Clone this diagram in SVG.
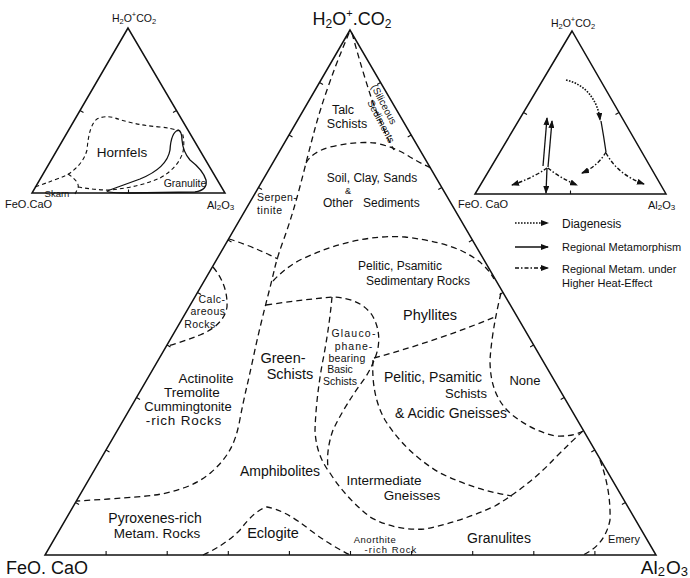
<svg xmlns="http://www.w3.org/2000/svg" width="690" height="578" viewBox="0 0 690 578">
<style>
text{font-family:"Liberation Sans",Arial,sans-serif;fill:#111}
.edge{fill:none;stroke:#111;stroke-width:1.5;stroke-linejoin:miter}
.tick{fill:none;stroke:#111;stroke-width:1.1}
.bd{fill:none;stroke:#111;stroke-width:1.3;stroke-dasharray:6 4}
.bds{fill:none;stroke:#111;stroke-width:1.1;stroke-dasharray:4 3}
.sol{fill:none;stroke:#111;stroke-width:1.3}
.dot{fill:none;stroke:#111;stroke-width:1.6;stroke-dasharray:1.6 1.4}
.dd{fill:none;stroke:#111;stroke-width:1.4;stroke-dasharray:4 2 1.5 2}
</style>
<defs>
<marker id="ah" markerWidth="8" markerHeight="6" refX="7" refY="3" orient="auto" markerUnits="userSpaceOnUse">
<path d="M0,0 L8,3 L0,6 Z" fill="#111"/>
</marker>
</defs>

<!-- main triangle -->
<g id="main-triangle">
<path class="edge" d="M350,30 L45,555 L656,555 Z"/>
<path class="tick" d="M319.5,82.5 l3.5,2 M289,135 l3.5,2 M258.5,187.5 l3.5,2 M228,240 l3.5,2 M197.5,292.5 l3.5,2 M167,345 l3.5,2 M136.5,397.5 l3.5,2 M106,450 l3.5,2 M75.5,502.5 l3.5,2 M380.6,82.5 l-3.5,2 M411.2,135 l-3.5,2 M441.8,187.5 l-3.5,2 M472.4,240 l-3.5,2 M503,292.5 l-3.5,2 M533.6,345 l-3.5,2 M564.2,397.5 l-3.5,2 M594.8,450 l-3.5,2 M625.4,502.5 l-3.5,2 M106.1,555 l0,-4 M167.2,555 l0,-4 M228.3,555 l0,-4 M289.4,555 l0,-4 M350.5,555 l0,-4 M411.6,555 l0,-4 M472.7,555 l0,-4 M533.8,555 l0,-4 M594.9,555 l0,-4"/>
<text x="352" y="25" text-anchor="middle" font-size="18">H<tspan font-size="12" dy="3">2</tspan><tspan dy="-3">O</tspan><tspan font-size="11" dy="-8">+</tspan><tspan dy="8">.</tspan>CO<tspan font-size="12" dy="3">2</tspan></text>
<text x="6" y="574" font-size="18">FeO. CaO</text>
<text x="688" y="574" text-anchor="end" font-size="19">Al<tspan font-size="13" dy="2">2</tspan><tspan dy="-2" dx="1">O</tspan><tspan font-size="13" dy="2">3</tspan></text>
</g>

<!-- boundaries -->
<g id="connectors">
<path class="bd" d="M349,33 L342,50 Q335,67 327.5,88.5 Q320,110 315,128.5 Q310,147 305,167 Q300,187 295,204.5 Q290,222 283.5,240 Q277,258 274.5,269 Q272,280 268.5,293.5 Q265,307 261,323.5 Q257,340 253.5,356.5 Q250,373 246.5,388 Q243,403 239.5,421.5 Q236,440 229,451.5 Q222,463 211,472.5 Q200,482 185,487.5 Q170,493 155,495 Q140,497 108.5,499 L77,501"/>
<path class="bd" d="M352,33 Q362,70 372,100 Q385,135 394,150"/>
<path class="bd" d="M306,163 Q312,152 330,147 Q355,141 375,143 Q395,147 410,157 Q420,163 431,168"/>
<path class="bd" d="M273,281 Q285,268 300,260 Q325,248 350,242 Q380,235 405,237 Q440,241 462,251 Q485,262 494,279"/>
<path class="bd" d="M229,239 Q252,246 278,259"/>
<path class="bd" d="M213,267 Q228,285 227,307 Q224,325 200,335 Q185,341 168,346"/>
<path class="bd" d="M266,305 Q300,300 332,297 Q360,298 372,315 Q381,330 378,348 Q375,362 365,378 Q345,405 333,430 Q326,450 328,468"/>
<path class="bd" d="M332,297 Q329,330 322,365 Q316,400 315,430 Q316,455 330,473"/>
<path class="bd" d="M330,473 Q345,497 370,517 Q395,531 425,529 Q460,522 495,506 Q530,485 555,458 Q572,441 583,431"/>
<path class="bd" d="M374,358 Q440,340 497,316"/>
<path class="bd" d="M373,360 Q371,395 385,420 Q405,452 440,473 Q475,490 512,496"/>
<path class="bd" d="M501,293 Q492,330 490,360 Q490,395 510,413 Q530,430 555,436 Q572,437 583,431"/>
<path class="bd" d="M600,460 Q611,490 610,520 Q605,545 583,555"/>
<path class="bd" d="M203,555 Q225,545 240,530 Q255,510 267,507 Q285,510 310,530 Q330,545 350,555"/>
</g>

<!-- region labels -->
<g id="labels" font-size="13">
<text x="343" y="114" text-anchor="middle" font-size="12.5">Talc</text>
<text x="347" y="128" text-anchor="middle" font-size="12.5">Schists</text>
<text transform="translate(381,106) rotate(62)" text-anchor="middle" font-size="10">(Siliceous</text>
<text transform="translate(378,123) rotate(62)" text-anchor="middle" font-size="10">Sediments</text>
<text x="372" y="182" text-anchor="middle" font-size="12">Soil, Clay, Sands</text>
<text x="348" y="194" text-anchor="middle" font-size="9">&amp;</text>
<text y="207" font-size="12"><tspan x="323">Other</tspan><tspan x="363">Sediments</tspan></text>
<text y="201" x="257" font-size="10.5" letter-spacing="0.4">Serpen-</text>
<text y="214" x="257" font-size="10.5" letter-spacing="0.6">tinite</text>
<text x="400" y="270" text-anchor="middle" font-size="12">Pelitic, Psamitic</text>
<text x="418" y="285" text-anchor="middle" font-size="12">Sedimentary Rocks</text>
<text x="430" y="320" text-anchor="middle" font-size="14.5">Phyllites</text>
<text x="212" y="303" text-anchor="middle" font-size="10.5" letter-spacing="0.5">Calc-</text>
<text x="208" y="315" text-anchor="middle" font-size="10.5" letter-spacing="0.5">areous</text>
<text x="200" y="327.5" text-anchor="middle" font-size="10.5" letter-spacing="0.5">Rocks</text>
<text x="283" y="363" text-anchor="middle" font-size="14.5">Green-</text>
<text x="290" y="378.5" text-anchor="middle" font-size="14.5">Schists</text>
<text x="354" y="337" text-anchor="middle" font-size="10.5" letter-spacing="1.2">Glauco-</text>
<text x="354" y="349.5" text-anchor="middle" font-size="10.5" letter-spacing="1">phane-</text>
<text x="347" y="361.5" text-anchor="middle" font-size="10.5" letter-spacing="0.3">bearing</text>
<text x="340" y="373" text-anchor="middle" font-size="10.5">Basic</text>
<text x="340" y="385" text-anchor="middle" font-size="10.5">Schists</text>
<text x="433" y="382" text-anchor="middle" font-size="14">Pelitic, Psamitic</text>
<text x="466" y="397.5" text-anchor="middle" font-size="13">Schists</text>
<text x="451" y="418" text-anchor="middle" font-size="14">&amp; Acidic Gneisses</text>
<text x="525" y="385" text-anchor="middle" font-size="13">None</text>
<text x="206" y="383" text-anchor="middle" font-size="13.5">Actinolite</text>
<text x="192" y="397" text-anchor="middle" font-size="13.5">Tremolite</text>
<text x="188" y="411" text-anchor="middle" font-size="13">Cummingtonite</text>
<text x="184" y="425" text-anchor="middle" font-size="13.5" letter-spacing="0.8">-rich Rocks</text>
<text x="280" y="476" text-anchor="middle" font-size="14">Amphibolites</text>
<text x="384" y="485" text-anchor="middle" font-size="13.5">Intermediate</text>
<text x="412" y="500" text-anchor="middle" font-size="13.5">Gneisses</text>
<text x="155" y="523" text-anchor="middle" font-size="14">Pyroxenes-rich</text>
<text x="157" y="538" text-anchor="middle" font-size="13.5">Metam. Rocks</text>
<text x="273" y="538" text-anchor="middle" font-size="14.5">Eclogite</text>
<text x="375" y="542.5" text-anchor="middle" font-size="9.5" letter-spacing="0.5">Anorthite</text>
<text x="391" y="553" text-anchor="middle" font-size="9.5" letter-spacing="1">-rich Rock</text>
<text x="499" y="543" text-anchor="middle" font-size="14">Granulites</text>
<text x="624" y="543" text-anchor="middle" font-size="11">Emery</text>
</g>

<!-- left inset -->
<g id="inset-left">
<path class="edge" d="M128,28 L32,193 L225,193 Z" stroke-width="1.3"/>
<path class="tick" d="M80,110.5 l3.5,2 M176.5,110.5 l-3.5,2 M128.5,193 l0,-3.5"/>
<path class="bds" d="M35,187 Q55,180 67,175 Q83,165 87,150 Q89,125 97,119 Q105,115 115,118 Q135,125 160,127 Q172,128 178,131"/>
<path class="bds" d="M68,174 Q80,182 78,188 L75,194"/>
<path class="bds" d="M78,187 Q95,190 110,190 Q140,187 160,178 Q178,168 183,152 Q185,140 182,132"/>
<path class="sol" d="M178,130 Q171,133 170,150 Q167,168 140,179 Q118,187 107,191 Q108,193 130,193 L195,192 Q208,190 206,180 Q203,170 190,160 Q183,152 182,140 Q182,131 178,130 Z"/>
<text x="134" y="22" text-anchor="middle" font-size="10.5">H<tspan font-size="7.5" dy="2">2</tspan><tspan dy="-2">O</tspan><tspan font-size="7.5" dy="-5">+</tspan><tspan dy="5">CO</tspan><tspan font-size="7.5" dy="2">2</tspan></text>
<text x="5" y="208" font-size="11">FeO.CaO</text>
<text x="207" y="209" font-size="11">Al<tspan font-size="8" dy="1">2</tspan><tspan dy="-1">O</tspan><tspan font-size="8" dy="1">3</tspan></text>
<text x="122" y="157" text-anchor="middle" font-size="13.5">Hornfels</text>
<text x="185" y="187" text-anchor="middle" font-size="10.5">Granulite</text>
<text x="57" y="197" text-anchor="middle" font-size="9.5">Skarn</text>
</g>

<!-- right inset -->
<g id="inset-right">
<path class="edge" d="M572,31 L475,194 L666,194 Z" stroke-width="1.3"/>
<path class="tick" d="M523.5,112.5 l3.5,2 M619,112.5 l-3.5,2 M570.5,194 l0,-3.5"/>
<path class="dot" d="M566,80 C585,84 598,100 600,120" marker-end="url(#ah)"/>
<path class="sol" d="M601,121 Q604,138 606,152"/>
<path class="dd" d="M606,152 Q598,166 582,173" marker-end="url(#ah)"/>
<path class="dd" d="M606,153 Q618,175 644,184" marker-end="url(#ah)"/>
<path class="sol" d="M543,166 L547,118" marker-end="url(#ah)"/>
<path class="sol" d="M548,167 L552,121" marker-end="url(#ah)"/>
<path class="sol" d="M547,168 L546,193" marker-end="url(#ah)"/>
<path class="dd" d="M547,168 Q533,178 512,185" marker-end="url(#ah)"/>
<path class="dd" d="M548,168 Q560,178 577,185" marker-end="url(#ah)"/>
<text x="573" y="27" text-anchor="middle" font-size="10.5">H<tspan font-size="7.5" dy="2">2</tspan><tspan dy="-2">O</tspan><tspan font-size="7.5" dy="-5">+</tspan><tspan dy="5">CO</tspan><tspan font-size="7.5" dy="2">2</tspan></text>
<text x="458" y="208" font-size="11">FeO. CaO</text>
<text x="648" y="209" font-size="11">Al<tspan font-size="8" dy="1">2</tspan><tspan dy="-1">O</tspan><tspan font-size="8" dy="1">3</tspan></text>
</g>

<!-- legend -->
<g id="legend">
<path class="dot" d="M515,223 L548,223" marker-end="url(#ah)"/>
<path class="sol" d="M515,247 L548,247" marker-end="url(#ah)"/>
<path class="dd" d="M515,268 L548,268" marker-end="url(#ah)"/>
<text x="562" y="228" font-size="12">Diagenesis</text>
<text x="562" y="251" font-size="11">Regional Metamorphism</text>
<text x="562" y="273" font-size="11">Regional Metam. under</text>
<text x="562" y="287" font-size="11">Higher Heat-Effect</text>
</g>
</svg>
